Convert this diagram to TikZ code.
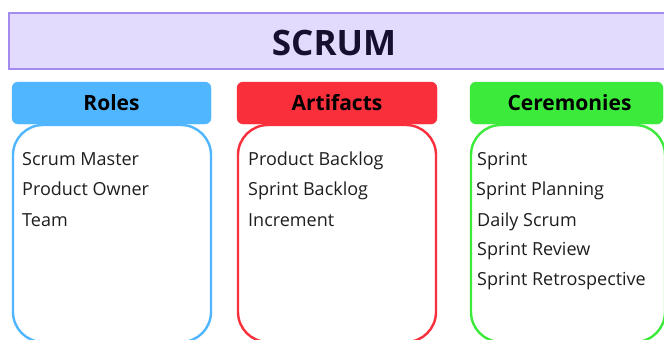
\documentclass[tikz,border=0pt]{standalone}
\usepackage{fontspec}
\setmainfont{Open Sans}
\definecolor{titlefill}{HTML}{E2DBFD}
\definecolor{titledraw}{HTML}{A38BEF}
\definecolor{titletext}{HTML}{16102E}
\definecolor{rblue}{HTML}{4FB6FF}
\definecolor{rred}{HTML}{F92F3C}
\definecolor{rgreen}{HTML}{3BEA3B}
\definecolor{bodytext}{HTML}{1E1E1E}
\tikzset{
  hdr/.style={rounded corners=6pt, fill=#1, draw=#1},
  bodybox/.style={rounded corners=30pt, draw=#1, line width=2.4pt, fill=white},
  hdrtext/.style={font=\fontsize{21}{25}\selectfont\bfseries, text=black},
  item/.style={anchor=base west, inner sep=0pt, font=\fontsize{18}{22}\selectfont, text=bodytext},
}
\begin{document}
\begin{tikzpicture}[x=1pt,y=-1pt]
\useasboundingbox (0,0) rectangle (664,340);
\clip (0,0) rectangle (664,340);
\fill[white] (0,0) rectangle (664,340);
% title
\draw[fill=titlefill, draw=titledraw, line width=1.3pt] (9,13) rectangle (680,69);
\node[font=\fontsize{35}{40}\selectfont\bfseries, text=titletext] (title) at (334,43) {SCRUM};
% bodies
\draw[bodybox=rblue] (13,125) rectangle (211,342);
\draw[bodybox=rred] (238,125) rectangle (436,342);
\draw[bodybox=rgreen] (471,125) rectangle (665,342);
% headers
\draw[hdr=rblue] (12,82) rectangle (211,124);
\draw[hdr=rred] (237,82) rectangle (437,124);
\draw[hdr=rgreen] (470,82) rectangle (663,124);
\node[hdrtext] (roles) at (111.5,103) {Roles};
\node[hdrtext] (artifacts) at (337,103) {Artifacts};
\node[hdrtext] (ceremonies) at (569.5,103) {Ceremonies};
% items
\node[item] (r1) at (22,165) {Scrum Master};
\node[item] (r2) at (22,195.5) {Product Owner};
\node[item] (r3) at (22,226) {Team};
\node[item] (a1) at (248,165) {Product Backlog};
\node[item] (a2) at (248,195.5) {Sprint Backlog};
\node[item] (a3) at (248,226) {Increment};
\node[item] (c1) at (477,165) {Sprint};
\node[item] (c2) at (476,195.5) {Sprint Planning};
\node[item] (c3) at (477,226) {Daily Scrum};
\node[item] (c4) at (477,255.5) {Sprint Review};
\node[item] (c5) at (477,285) {Sprint Retrospective};
\end{tikzpicture}
\end{document}
